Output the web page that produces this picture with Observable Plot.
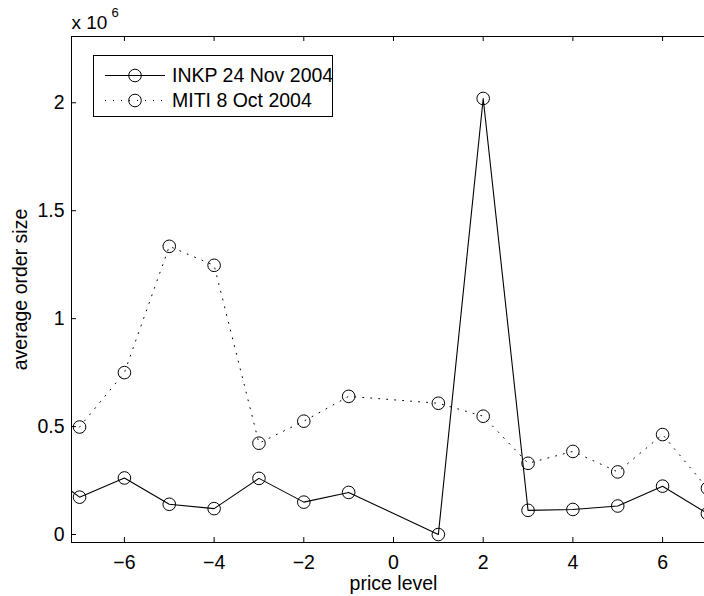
<!DOCTYPE html>
<html>
<head>
<meta charset="utf-8">
<script src="https://cdn.jsdelivr.net/npm/d3@7"></script>
<script src="https://cdn.jsdelivr.net/npm/@observablehq/plot@0.6"></script>
<style>
  html, body { margin: 0; padding: 0; background: white; overflow: hidden; width: 704px; height: 596px; }
  #wrap { position: relative; width: 704px; height: 596px; overflow: hidden; }
  #legend { position: absolute; left: 0; top: 0; }
</style>
</head>
<body>
<div id="wrap"></div>
<script>
// ---- data (values in units of 10^6) ----
const inkpLevels = [-8, -7, -6, -5, -4, -3, -2, -1, 1, 2, 3, 4, 5, 6, 7];
const inkpSize   = [0.33, 0.173, 0.262, 0.14, 0.12, 0.26, 0.15, 0.195, 0.0, 2.02, 0.112, 0.116, 0.132, 0.224, 0.097];
const mitiLevels = [-7, -6, -5, -4, -3, -2, -1, 1, 2, 3, 4, 5, 6, 7];
const mitiSize   = [0.498, 0.75, 1.335, 1.247, 0.423, 0.525, 0.64, 0.608, 0.548, 0.33, 0.385, 0.29, 0.463, 0.214];
const xTicks = [-6, -4, -2, 0, 2, 4, 6];
const yTicks = [0, 0.5, 1, 1.5, 2];
const seriesNames = ["INKP 24 Nov 2004", "MITI 8 Oct 2004"];
const xLabel = "price level";
const yLabel = "average order size";

const inkp = inkpLevels.map((x, i) => ({x, y: inkpSize[i]}));
const miti = mitiLevels.map((x, i) => ({x, y: mitiSize[i]}));

const FONT = "'Liberation Sans', Arial, Helvetica, sans-serif";
const W = 716, H = 596, ML = 71, MR = 1, MT = 36, MB = 54;
const FW = W - ML - MR, FH = H - MT - MB;
const minus = d => d < 0 ? "\u2212" + (-d) : String(d);

const chart = Plot.plot({
  width: W, height: H,
  marginLeft: ML, marginRight: MR, marginTop: MT, marginBottom: MB,
  style: {maxWidth: "none", fontFamily: FONT, fontSize: "19.5px", color: "black", background: "white", overflow: "hidden"},
  x: {domain: [-7.18, 7.18]},
  y: {domain: [-0.037, 2.307]},
  marks: [
    Plot.axisX({ticks: xTicks, tickSize: 0, tickPadding: 13, tickFormat: minus, label: null, fontSize: 19.5}),
    Plot.axisY({ticks: yTicks, tickSize: 0, tickPadding: 7, tickFormat: d => String(d), label: null, fontSize: 19.5}),
    Plot.tickX(xTicks, {x: d => d, insetTop: FH - 5, stroke: "black"}),
    Plot.tickX(xTicks, {x: d => d, insetBottom: FH - 5, stroke: "black"}),
    Plot.tickY(yTicks, {y: d => d, insetRight: FW - 5, stroke: "black"}),
    Plot.tickY(yTicks, {y: d => d, insetLeft: FW - 5, stroke: "black"}),
    Plot.line(miti, {x: "x", y: "y", stroke: "black", strokeWidth: 1, strokeDasharray: "1 7", clip: true}),
    Plot.line(inkp, {x: "x", y: "y", stroke: "black", strokeWidth: 1.1, clip: true}),
    Plot.dot(miti, {x: "x", y: "y", r: 6.3, stroke: "black", strokeWidth: 1, fill: "none", clip: true}),
    Plot.dot(inkp, {x: "x", y: "y", r: 6.3, stroke: "black", strokeWidth: 1, fill: "none", clip: true}),
    Plot.frame({stroke: "black", strokeWidth: 1}),
    Plot.text([xLabel], {frameAnchor: "bottom", lineAnchor: "top", dy: 34, fontSize: 19.5, fill: "black"}),
    Plot.text([yLabel], {frameAnchor: "left", rotate: -90, lineAnchor: "top", textAnchor: "middle", dx: -58, fontSize: 19.5, fill: "black"}),
    Plot.text(["x 10"], {frameAnchor: "top-left", textAnchor: "start", lineAnchor: "bottom", dy: -8, dx: 0, fontSize: 19, fill: "black"}),
    Plot.text(["6"], {frameAnchor: "top-left", textAnchor: "start", lineAnchor: "bottom", dy: -20, dx: 40, fontSize: 13, fill: "black"})
  ]
});
document.getElementById("wrap").appendChild(chart);

// ---- legend (inside the axes, top-left) ----
const lg = d3.select("#wrap").append("svg")
  .attr("id", "legend").attr("width", 704).attr("height", 130);
lg.append("rect").attr("x", 93.5).attr("y", 55.5).attr("width", 239).attr("height", 61)
  .attr("fill", "white").attr("stroke", "black").attr("stroke-width", 1);
const rows = [
  {name: seriesNames[0], y: 75, dash: null, w: 1.1},
  {name: seriesNames[1], y: 100, dash: "1 7", w: 1}
];
rows.forEach(r => {
  lg.append("line").attr("x1", 105).attr("x2", 165).attr("y1", r.y + 0.5).attr("y2", r.y + 0.5)
    .attr("stroke", "black").attr("stroke-width", r.w).attr("stroke-dasharray", r.dash);
  lg.append("circle").attr("cx", 135).attr("cy", r.y + 0.5).attr("r", 6.3)
    .attr("fill", "none").attr("stroke", "black");
  lg.append("text").attr("x", 172).attr("y", r.y).attr("dy", "0.35em")
    .attr("font-family", FONT).attr("font-size", 19.5).attr("fill", "black").text(r.name);
});
</script>
</body>
</html>
